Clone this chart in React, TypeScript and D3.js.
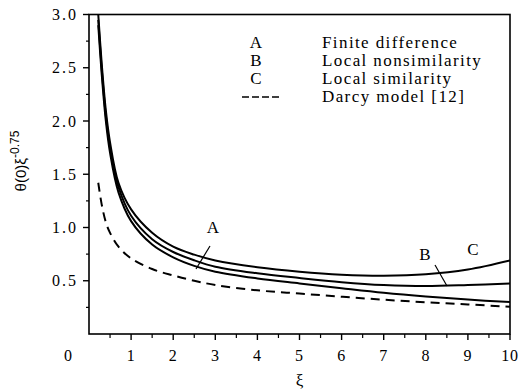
import React from 'react'
import * as d3 from 'd3'

// values
const xi = [0.22, 0.3, 0.4, 0.5, 0.7, 1, 1.5, 2, 2.5, 3, 4, 5, 6, 7, 8, 9, 10]
const curveC = [3.0, 2.55, 2.1, 1.8, 1.42, 1.17, 0.95, 0.82, 0.745, 0.69, 0.627, 0.585, 0.557, 0.547, 0.56, 0.605, 0.69]
const curveB = [2.95, 2.5, 2.05, 1.75, 1.38, 1.11, 0.89, 0.77, 0.692, 0.632, 0.57, 0.526, 0.487, 0.46, 0.45, 0.46, 0.475]
const curveA = [2.9, 2.45, 2.0, 1.7, 1.33, 1.06, 0.84, 0.72, 0.64, 0.585, 0.522, 0.475, 0.43, 0.387, 0.352, 0.323, 0.3]
const darcy = [1.42, 1.22, 1.05, 0.95, 0.82, 0.71, 0.61, 0.55, 0.5, 0.46, 0.41, 0.38, 0.35, 0.322, 0.298, 0.278, 0.256]

const xTicks = [1, 2, 3, 4, 5, 6, 7, 8, 9, 10]
const xMinor = d3.range(0.5, 10, 1)
const yTicks = [0.5, 1.0, 1.5, 2.0, 2.5, 3.0]
const yMinor = [0.25, 0.75, 1.25, 1.75, 2.25, 2.75]

const legendKeys = ['A', 'B', 'C']
const legendNames = ['Finite difference', 'Local nonsimilarity', 'Local similarity', 'Darcy model [12]']

const W = 521
const H = 392
const serif = "'Liberation Serif', 'DejaVu Serif', serif"
const sans = "'Liberation Sans', Arial, sans-serif"

export default function App() {
  const x = d3.scaleLinear().domain([0, 10]).range([89, 510])
  const y = d3.scaleLinear().domain([0, 3]).range([334, 14.5])

  const line = d3.line<number>()
    .x((_, i) => x(xi[i]))
    .y(d => y(d))
    .curve(d3.curveCatmullRom.alpha(0.5))

  const solid = [curveC, curveB, curveA]

  return (
    <svg width={W} height={H} fontFamily={serif} fontSize={16}
      style={{ position: 'absolute', left: 0, top: 0, background: '#fff' }}>
      <defs>
        <clipPath id="plot">
          <rect x={x(0)} y={y(3)} width={x(10) - x(0)} height={y(0) - y(3)} />
        </clipPath>
      </defs>

      {/* frame */}
      <rect x={x(0)} y={y(3)} width={x(10) - x(0)} height={y(0) - y(3)}
        fill="none" stroke="#000" strokeWidth={1.6} />

      {/* x ticks */}
      {xTicks.map(t => (
        <g key={'xt' + t}>
          <line x1={x(t)} x2={x(t)} y1={y(0)} y2={y(0) + 6} stroke="#000" strokeWidth={1.4} />
          <text x={x(t)} y={y(0) + 27} textAnchor="middle" letterSpacing={0.8}>{t}</text>
        </g>
      ))}
      {xMinor.map(t => (
        <line key={'xm' + t} x1={x(t)} x2={x(t)} y1={y(0)} y2={y(0) + 4} stroke="#000" strokeWidth={1.2} />
      ))}
      <text x={x(0) - 21} y={y(0) + 27} textAnchor="middle">0</text>

      {/* y ticks */}
      {yTicks.map(t => (
        <g key={'yt' + t}>
          <line x1={x(0) - 6} x2={x(0)} y1={y(t)} y2={y(t)} stroke="#000" strokeWidth={1.4} />
          <text x={x(0) - 11} y={y(t)} dy="0.35em" textAnchor="end" letterSpacing={2}>{t.toFixed(1)}</text>
        </g>
      ))}
      {yMinor.map(t => (
        <line key={'ym' + t} x1={x(0) - 3} x2={x(0)} y1={y(t)} y2={y(t)} stroke="#000" strokeWidth={1.2} />
      ))}

      {/* axis titles */}
      <text x={x(5)} y={386} textAnchor="middle" fontSize={17}>ξ</text>
      <text transform="translate(26,161) rotate(-90)" textAnchor="middle" fontFamily={sans} fontSize={15}>
        θ(0)ξ<tspan dy={-7} fontSize={12}>-0.75</tspan>
      </text>

      {/* curves */}
      <g clipPath="url(#plot)">
        {solid.map((s, i) => (
          <path key={'c' + i} d={line(s) ?? ''} fill="none" stroke="#000" strokeWidth={2} />
        ))}
        <path d={line(darcy) ?? ''} fill="none" stroke="#000" strokeWidth={2} strokeDasharray="9 6" />
      </g>

      {/* curve labels with pointers */}
      <text x={213} y={233} textAnchor="middle" fontSize={17}>A</text>
      <line x1={210} y1={246} x2={196} y2={269} stroke="#000" strokeWidth={1.2} />
      <text x={425} y={260} textAnchor="middle" fontSize={17}>B</text>
      <line x1={435} y1={265} x2={447} y2={286} stroke="#000" strokeWidth={1.2} />
      <text x={473} y={255} textAnchor="middle" fontSize={17}>C</text>

      {/* legend */}
      {legendNames.map((name, i) => (
        <g key={'lg' + i}>
          {i < legendKeys.length
            ? <text x={256} y={48 + i * 18} textAnchor="middle" fontSize={17}>{legendKeys[i]}</text>
            : <line x1={242} x2={279} y1={43 + i * 18} y2={43 + i * 18} stroke="#000" strokeWidth={1.6} strokeDasharray="7 3" />}
          <text x={322} y={48 + i * 18} fontSize={17} letterSpacing={1.4}>{name}</text>
        </g>
      ))}
    </svg>
  )
}
